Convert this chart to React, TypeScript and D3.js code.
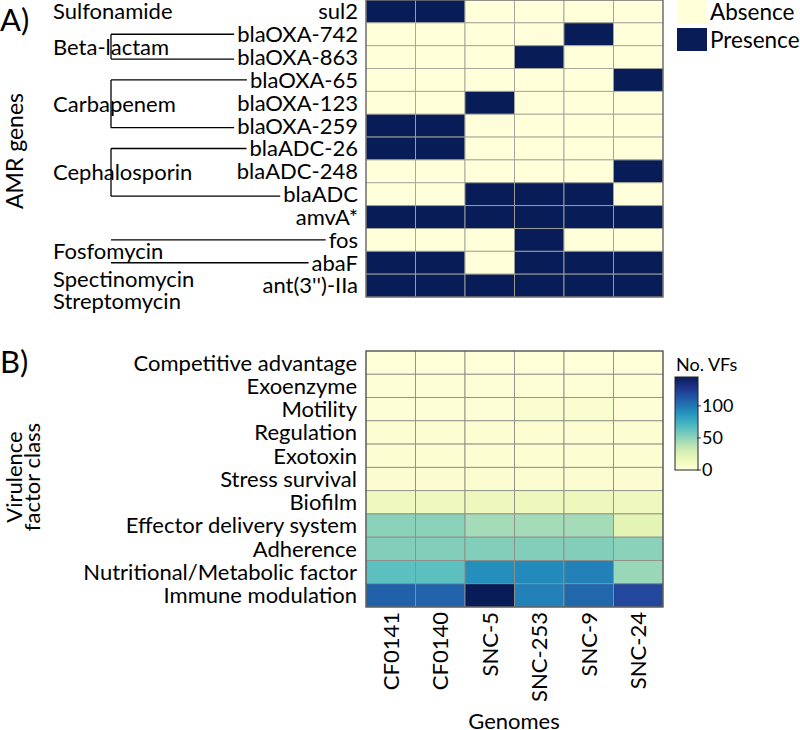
import * as d3 from "d3";
import { useEffect, useRef } from "react";

const genomes = ["CF0141", "CF0140", "SNC-5", "SNC-253", "SNC-9", "SNC-24"];

const genes = [
  "sul2", "blaOXA-742", "blaOXA-863", "blaOXA-65", "blaOXA-123", "blaOXA-259",
  "blaADC-26", "blaADC-248", "blaADC", "amvA*", "fos", "abaF", "ant(3'')-IIa",
];

// 1 = presence, 0 = absence, one row per gene, columns follow genomes
const presence = [
  [1, 1, 0, 0, 0, 0],
  [0, 0, 0, 0, 1, 0],
  [0, 0, 0, 1, 0, 0],
  [0, 0, 0, 0, 0, 1],
  [0, 0, 1, 0, 0, 0],
  [1, 1, 0, 0, 0, 0],
  [1, 1, 0, 0, 0, 0],
  [0, 0, 0, 0, 0, 1],
  [0, 0, 1, 1, 1, 0],
  [1, 1, 1, 1, 1, 1],
  [0, 0, 0, 1, 0, 0],
  [1, 1, 0, 1, 1, 1],
  [1, 1, 1, 1, 1, 1],
];

// drug classes: label lines, genes joined by the bracket, whether to draw the vertical
const drugClasses = [
  { label: ["Sulfonamide"], genes: [] as string[], anchor: "sul2", vertical: false },
  { label: ["Beta-lactam"], genes: ["blaOXA-742", "blaOXA-863"], anchor: null, vertical: true },
  { label: ["Carbapenem"], genes: ["blaOXA-65", "blaOXA-259"], anchor: null, vertical: true },
  { label: ["Cephalosporin"], genes: ["blaADC-26", "blaADC"], anchor: null, vertical: true },
  { label: ["Fosfomycin"], genes: ["fos", "abaF"], anchor: null, vertical: false },
  { label: ["Spectinomycin", "Streptomycin"], genes: [], anchor: "ant(3'')-IIa", vertical: false },
];

const vfClasses = [
  "Competitive advantage", "Exoenzyme", "Motility", "Regulation", "Exotoxin",
  "Stress survival", "Biofilm", "Effector delivery system", "Adherence",
  "Nutritional/Metabolic factor", "Immune modulation",
];

// number of virulence factors, rows follow vfClasses, columns follow genomes
const vfCounts = [
  [1, 1, 1, 1, 1, 1],
  [2, 2, 2, 2, 2, 2],
  [2, 2, 2, 5, 5, 2],
  [3, 3, 3, 3, 3, 3],
  [3, 3, 3, 3, 3, 3],
  [4, 4, 4, 4, 4, 4],
  [14, 14, 15, 15, 15, 14],
  [52, 52, 45, 45, 45, 22],
  [54, 54, 54, 54, 54, 52],
  [65, 65, 91, 92, 96, 48],
  [108, 107, 145, 96, 106, 119],
];

const vfTicks = [0, 50, 100];
const legendItems = ["Absence", "Presence"];

const FONT = "Lato, 'Open Sans', sans-serif";

export default function App() {
  const svgRef = useRef(null);
  const width = 800;
  const height = 730;

  useEffect(() => {
    const svg = d3.select(svgRef.current);
    svg.selectAll("*").remove();
    svg.attr("font-family", FONT);

    const x = d3.scaleBand().domain(genomes).range([366, 663]);
    const yA = d3.scaleBand().domain(genes).range([0, 297]);
    const yB = d3.scaleBand().domain(vfClasses).range([351, 607]);
    const paFill = d3.scaleOrdinal<number, string>().domain([0, 1]).range(["#ffffd9", "#081d58"]);
    const vfColor = d3.scaleSequential(d3.interpolateYlGnBu).domain([0, 145]);

    // ---------- panel A ----------
    const cellsA = genes.flatMap((g, i) => genomes.map((s, j) => ({ g, s, v: presence[i][j] })));
    svg.append("g").selectAll("rect").data(cellsA).join("rect")
      .attr("x", (d) => x(d.s)!)
      .attr("y", (d) => yA(d.g)!)
      .attr("width", x.bandwidth())
      .attr("height", yA.bandwidth())
      .attr("fill", (d) => paFill(d.v))
      .attr("stroke", "#a3a39a")
      .attr("stroke-width", 0.9);
    svg.append("rect")
      .attr("x", 366).attr("y", 0).attr("width", 297).attr("height", 297)
      .attr("fill", "none").attr("stroke", "#666").attr("stroke-width", 1.2);

    const geneLabels = svg.append("g").selectAll("text").data(genes).join("text")
      .attr("x", 358)
      .attr("y", (d) => yA(d)! + yA.bandwidth() / 2)
      .attr("dy", "0.36em")
      .attr("text-anchor", "end")
      .attr("font-size", 22)
      .text((d) => d);

    const labelStart: Record<string, number> = {};
    geneLabels.each(function (d) {
      labelStart[d] = 358 - (this as SVGTextElement).getComputedTextLength();
    });

    const bx = 111;
    const brackets = svg.append("g").attr("stroke", "#000").attr("stroke-width", 1.3);
    drugClasses.forEach((c) => {
      let cy: number;
      if (c.genes.length) {
        const ys = c.genes.map((g, k) => yA(g)! + yA.bandwidth() / 2 + (k === 1 && c.vertical ? 2 : 0));
        c.genes.forEach((g, k) => {
          brackets.append("line").attr("x1", bx).attr("x2", labelStart[g] - 3)
            .attr("y1", ys[k]).attr("y2", ys[k]);
        });
        if (c.vertical) {
          brackets.append("line").attr("x1", bx).attr("x2", bx).attr("y1", ys[0]).attr("y2", ys[1]);
        }
        cy = (ys[0] + ys[1]) / 2;
      } else {
        cy = yA(c.anchor!)! + yA.bandwidth() / 2;
        if (c.label.length > 1) cy += 5;
      }
      const t = svg.append("text").attr("x", 53).attr("font-size", 22);
      c.label.forEach((l, k) => {
        t.append("tspan").attr("x", 53)
          .attr("y", cy + (k - (c.label.length - 1) / 2) * 22)
          .attr("dy", "0.36em")
          .text(l);
      });
    });

    svg.append("text").attr("x", 0).attr("y", 31).attr("font-size", 31).text("A)");
    svg.append("text")
      .attr("transform", `translate(15,${151}) rotate(-90)`)
      .attr("dy", "0.36em")
      .attr("text-anchor", "middle")
      .attr("font-size", 23)
      .text("AMR genes");

    // legend A
    const lg = svg.append("g").selectAll("g").data(legendItems).join("g")
      .attr("transform", (_, i) => `translate(677,${i * 28})`);
    lg.append("rect").attr("width", 30).attr("height", 23)
      .attr("fill", (_, i) => paFill(i));
    lg.append("text").attr("x", 33).attr("y", 12).attr("dy", "0.36em")
      .attr("font-size", 22.5).text((d) => d);

    // ---------- panel B ----------
    const cellsB = vfClasses.flatMap((c, i) => genomes.map((s, j) => ({ c, s, v: vfCounts[i][j] })));
    svg.append("g").selectAll("rect").data(cellsB).join("rect")
      .attr("x", (d) => x(d.s)!)
      .attr("y", (d) => yB(d.c)!)
      .attr("width", x.bandwidth())
      .attr("height", yB.bandwidth())
      .attr("fill", (d) => vfColor(d.v))
      .attr("stroke", "#8f8f88")
      .attr("stroke-width", 0.9);
    svg.append("rect")
      .attr("x", 366).attr("y", 351).attr("width", 297).attr("height", 256)
      .attr("fill", "none").attr("stroke", "#555").attr("stroke-width", 1.2);

    svg.append("g").selectAll("text").data(vfClasses).join("text")
      .attr("x", 357)
      .attr("y", (d) => yB(d)! + yB.bandwidth() / 2)
      .attr("dy", "0.36em")
      .attr("text-anchor", "end")
      .attr("font-size", 22)
      .text((d) => d);

    svg.append("g").selectAll("text").data(genomes).join("text")
      .attr("transform", (d) => `translate(${x(d)! + x.bandwidth() / 2},612) rotate(-90)`)
      .attr("dy", "0.36em")
      .attr("text-anchor", "end")
      .attr("font-size", 22)
      .text((d) => d);

    svg.append("text").attr("x", 514).attr("y", 721).attr("dy", "0.36em")
      .attr("text-anchor", "middle").attr("font-size", 22).text("Genomes");

    svg.append("text").attr("x", 0).attr("y", 373).attr("font-size", 31).text("B)");
    const vt = svg.append("text")
      .attr("transform", "translate(14,477) rotate(-90)")
      .attr("text-anchor", "middle")
      .attr("font-size", 22);
    vt.append("tspan").attr("x", 0).attr("y", 0).attr("dy", "0.36em").text("Virulence");
    vt.append("tspan").attr("x", 0).attr("y", 18).attr("dy", "0.36em").text("factor class");

    // colour bar
    const cbTop = 377, cbBot = 470, cbX = 675, cbW = 23;
    const cy = d3.scaleLinear().domain([0, 145]).range([cbBot, cbTop]);
    const defs = svg.append("defs");
    const grad = defs.append("linearGradient").attr("id", "vfgrad")
      .attr("x1", 0).attr("x2", 0).attr("y1", 1).attr("y2", 0);
    d3.range(0, 1.0001, 0.1).forEach((t) => {
      grad.append("stop").attr("offset", t).attr("stop-color", vfColor(t * 145));
    });
    svg.append("rect").attr("x", cbX).attr("y", cbTop).attr("width", cbW)
      .attr("height", cbBot - cbTop).attr("fill", "url(#vfgrad)")
      .attr("stroke", "#222").attr("stroke-width", 1);
    const tk = svg.append("g").selectAll("g").data(vfTicks).join("g")
      .attr("transform", (d) => `translate(0,${cy(d)})`);
    tk.append("line").attr("x1", cbX + cbW - 1).attr("x2", cbX + cbW + 3)
      .attr("stroke", "#333").attr("stroke-width", 1);
    tk.append("text").attr("x", cbX + cbW + 4).attr("dy", "0.36em")
      .attr("font-size", 18).text((d) => d);
    svg.append("text").attr("x", cbX + 1).attr("y", 365).attr("dy", "0.36em")
      .attr("font-size", 18).text("No. VFs");
  }, []);

  return (
    <svg
      ref={svgRef}
      width={width}
      height={height}
      style={{ position: "absolute", left: 0, top: 0, background: "#fff" }}
    />
  );
}
